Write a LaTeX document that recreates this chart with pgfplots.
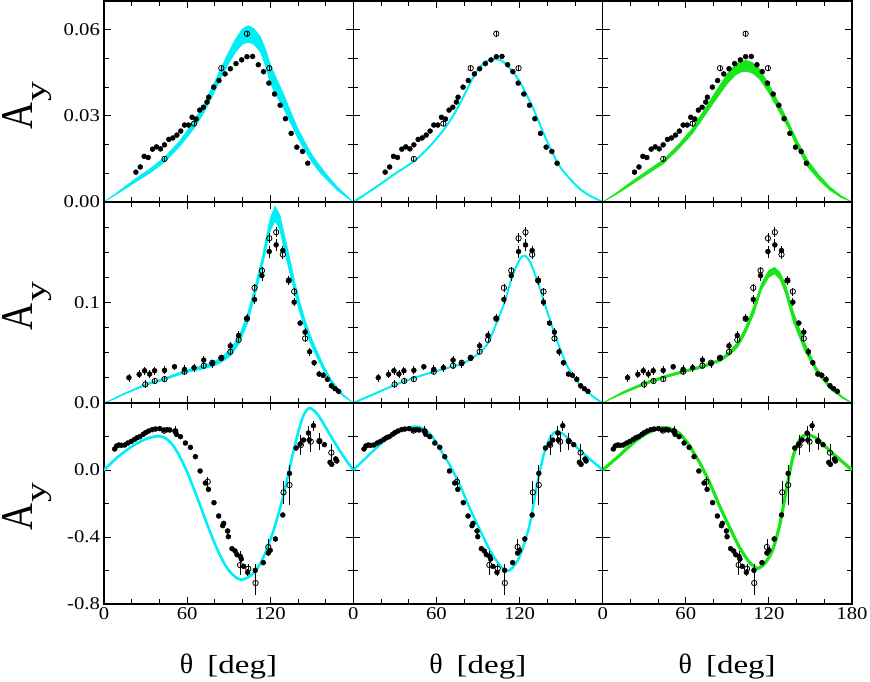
\documentclass[border=0pt]{standalone}
\usepackage{fontspec}
\setmainfont{Liberation Serif}
\usepackage{graphicx}
\usepackage{pgfplots}
\pgfplotsset{compat=1.18}
\usepackage{pgfplotstable}

\definecolor{mycyan}{RGB}{0,238,245}
\definecolor{mygreen}{RGB}{25,230,25}

\pgfplotstableread{
x y e
23.0 0.0104 0.0003
26.2 0.0122 0.0003
29.0 0.0159 0.0003
31.9 0.0155 0.0003
35.0 0.0184 0.0003
37.9 0.0192 0.0003
40.8 0.0185 0.0003
43.7 0.0199 0.0003
46.8 0.0218 0.0003
49.7 0.0223 0.0003
52.6 0.0233 0.0003
55.4 0.0247 0.0003
58.1 0.0268 0.0003
61.0 0.0268 0.0003
63.6 0.0295 0.0003
66.5 0.0289 0.0003
69.1 0.0320 0.0003
71.8 0.0330 0.0003
74.4 0.0348 0.0003
75.6 0.0365 0.0003
79.2 0.0400 0.0003
83.0 0.0423 0.0003
87.4 0.0446 0.0003
91.2 0.0464 0.0003
95.3 0.0482 0.0003
99.4 0.0495 0.0003
103.2 0.0506 0.0003
107.3 0.0507 0.0003
111.4 0.0478 0.0003
115.2 0.0454 0.0003
119.0 0.0414 0.0003
123.1 0.0376 0.0003
127.2 0.0337 0.0003
131.0 0.0290 0.0003
135.1 0.0239 0.0003
139.2 0.0191 0.0003
143.3 0.0176 0.0003
147.1 0.0135 0.0003
}\topF
\pgfplotstableread{
x y e
43.7 0.0150 0.0008
65.0 0.0273 0.0008
84.7 0.0466 0.0009
103.2 0.0586 0.0010
119.3 0.0466 0.0010
}\topO
\pgfplotstableread{
x y e
18.0 0.0252 0.004
25.4 0.0285 0.004
29.3 0.0321 0.004
32.9 0.0288 0.004
36.5 0.0321 0.004
43.7 0.0325 0.004
50.9 0.0361 0.003
58.1 0.0334 0.004
65.0 0.0351 0.004
72.0 0.0427 0.004
78.2 0.0391 0.004
84.7 0.0444 0.003
91.2 0.0569 0.004
97.2 0.0672 0.004
103.2 0.0844 0.004
108.7 0.1030 0.004
114.0 0.1268 0.005
119.3 0.1507 0.006
124.3 0.1573 0.006
129.1 0.1517 0.005
133.4 0.1219 0.004
137.3 0.1003 0.004
141.6 0.0795 0.003
145.2 0.0705 0.004
148.5 0.0510 0.004
151.7 0.0401 0.003
155.3 0.0288 0.003
158.2 0.0275 0.003
161.3 0.0235 0.003
164.1 0.0172 0.003
166.8 0.0142 0.002
169.4 0.0116 0.002
}\midF
\pgfplotstableread{
x y e
29.8 0.0185 0.004
36.7 0.0219 0.003
43.7 0.0238 0.003
58.1 0.0311 0.003
72.0 0.0371 0.003
78.2 0.0401 0.003
84.7 0.0450 0.003
91.2 0.0510 0.003
97.2 0.0629 0.003
103.2 0.0838 0.003
108.7 0.1146 0.004
114.0 0.1318 0.004
119.3 0.1639 0.005
124.3 0.1699 0.005
129.1 0.1477 0.004
133.4 0.1219 0.004
137.3 0.1109 0.004
145.2 0.0642 0.004
}\midO
\pgfplotstableread{
x y e
7.7 0.1254 0.01
9.1 0.1433 0.01
10.8 0.1493 0.01
12.5 0.1473 0.008
14.9 0.1493 0.008
17.3 0.1612 0.008
19.7 0.1711 0.008
22.1 0.1831 0.008
24.0 0.1930 0.008
25.9 0.1990 0.008
28.3 0.2129 0.008
30.0 0.2229 0.01
32.2 0.2328 0.01
34.8 0.2408 0.008
37.2 0.2448 0.008
40.3 0.2468 0.008
43.2 0.2388 0.01
45.6 0.2408 0.01
47.5 0.2388 0.01
51.4 0.2308 0.02
52.3 0.2129 0.01
55.2 0.1990 0.01
58.8 0.1612 0.01
62.4 0.1353 0.01
66.0 0.0796 0.01
69.4 -0.0060 0.01
73.2 -0.0776 0.01
75.4 -0.1154 0.015
79.4 -0.1950 0.01
82.8 -0.2746 0.01
85.7 -0.3323 0.01
86.4 -0.3184 0.01
89.3 -0.3641 0.015
89.8 -0.3980 0.015
92.4 -0.4696 0.01
94.6 -0.4836 0.01
96.0 -0.5055 0.01
98.4 -0.5154 0.03
99.1 -0.5313 0.02
100.8 -0.5751 0.01
103.7 -0.6109 0.02
109.2 -0.5990 0.04
115.0 -0.5532 0.01
118.6 -0.4955 0.02
120.0 -0.4796 0.02
123.8 -0.4119 0.015
129.1 -0.2686 0.01
133.9 -0.0199 0.04
138.7 0.1313 0.01
141.6 0.1552 0.01
144.0 0.1791 0.01
147.6 0.2209 0.04
148.1 0.1791 0.02
151.2 0.2647 0.03
155.5 0.1711 0.05
159.1 0.1512 0.01
163.2 0.0458 0.01
164.4 0.0338 0.01
167.3 0.0657 0.015
168.0 0.0537 0.01
}\botF
\pgfplotstableread{
x y e
43.5 0.2350 0.01
51.5 0.2320 0.03
74.9 -0.0697 0.03
98.2 -0.5672 0.06
104.2 -0.5891 0.03
109.4 -0.6746 0.07
118.6 -0.4597 0.05
129.6 -0.1333 0.07
133.9 -0.0896 0.12
142.1 0.1493 0.06
149.3 0.1692 0.06
155.5 0.1731 0.05
164.1 0.1035 0.05
}\botO

\pgfplotsset{
 panel/.style={scale only axis, width=249.33pt, height=201pt, anchor=south west,
  xmin=0, xmax=180, xtick={0,60,120,180}, minor xtick={20,40,80,100,140,160},
  xticklabels={,,,,}, yticklabels={,,,,},
  axis line style={line width=1.1pt, black},
  every tick/.style={black, line width=0.8pt},
  major tick length=7pt, minor tick length=5pt, tick align=inside,
  ticklabel style={font=\fontsize{18}{21}\selectfont, xscale=1.15}},
 rowT/.style={ymin=0, ymax=0.07, ytick={0,0.03,0.06}, minor ytick={0.01,0.02,0.04,0.05}},
 rowM/.style={ymin=0, ymax=0.2, ytick={0,0.1,0.2}, minor ytick={0.025,0.05,0.075,0.125,0.15,0.175}},
 rowB/.style={ymin=-0.8, ymax=0.4, ytick={-0.8,-0.4,0,0.4}, minor ytick={-0.6,-0.2,0.2}},
 band/.style={draw=#1, fill=#1, line width=0.6pt, line join=round},
 filled/.style={only marks, mark=*, mark size=2.5pt, black,
  error bars/.cd, y dir=both, y explicit, error mark=none, error bar style={line width=0.8pt, black}},
 open/.style={only marks, mark=o, mark size=2.7pt, black, mark options={line width=0.8pt},
  error bars/.cd, y dir=both, y explicit, error mark=none, error bar style={line width=0.8pt, black}},
}

\newcommand{\topdata}{%
 \addplot[filled] table[x=x,y=y,y error=e]{\topF};
 \addplot[open] table[x=x,y=y,y error=e]{\topO};}
\newcommand{\middata}{%
 \addplot[filled] table[x=x,y=y,y error=e]{\midF};
 \addplot[open] table[x=x,y=y,y error=e]{\midO};}
\newcommand{\botdata}{%
 \addplot[filled] table[x=x,y=y,y error=e]{\botF};
 \addplot[open] table[x=x,y=y,y error=e]{\botO};}

\begin{document}
\begin{tikzpicture}
\path[use as bounding box] (0,0) rectangle (870pt,681pt);

% ---------- top row ----------
\begin{axis}[panel, rowT, at={(104pt,479pt)}, yticklabels={0.00,0.03,0.06}]
 \addplot[band=mycyan] coordinates {(0,0)(10,0.0035)(23,0.0082)(33,0.0115)(44,0.0157)(55,0.0215)(65,0.0283)(72,0.0340)(80,0.0420)(85,0.0472)(90,0.0522)(95,0.0568)(100,0.0603)(104,0.0614)(108,0.0605)(113,0.0575)(117,0.0527)(120,0.0480)(125,0.0425)(130,0.0372)(135,0.0312)(140,0.0256)(145,0.0210)(150,0.0166)(156,0.0125)(162,0.0088)(168,0.0055)(174,0.0027)(180,0)
 (174,0.0020)(168,0.0043)(162,0.0072)(156,0.0102)(150,0.0140)(145,0.0180)(140,0.0222)(135,0.0272)(130,0.0322)(125,0.0365)(120,0.0414)(117,0.0468)(113,0.0522)(108,0.0550)(104,0.0556)(100,0.0550)(95,0.0522)(90,0.0482)(85,0.0439)(80,0.0385)(72,0.0310)(65,0.0256)(55,0.0195)(44,0.0140)(33,0.0100)(23,0.0070)(10,0.0030)} -- cycle;
 \topdata
\end{axis}
\begin{axis}[panel, rowT, at={(353.33pt,479pt)}]
 \addplot[mycyan, line width=2pt, smooth] coordinates {(0,0)(10,0.0031)(20,0.0064)(30,0.0098)(44,0.0143)(55,0.0193)(65,0.0250)(72,0.0300)(78,0.0352)(85,0.0420)(90,0.0462)(96,0.0490)(102,0.0498)(107,0.0492)(113,0.0466)(120,0.0420)(128,0.0345)(133,0.0290)(140,0.0210)(148,0.0132)(155,0.0088)(163,0.0048)(170,0.0024)(180,0)};
 \topdata
\end{axis}
\begin{axis}[panel, rowT, at={(602.67pt,479pt)}]
 \addplot[band=mygreen] coordinates {(0,0)(10,0.0032)(20,0.0068)(30,0.0102)(44,0.0148)(55,0.0202)(65,0.0258)(75,0.0335)(85,0.0410)(90,0.0447)(96,0.0480)(100,0.0491)(104,0.0493)(108,0.0486)(113,0.0465)(120,0.0410)(128,0.0338)(135,0.0270)(140,0.0218)(148,0.0146)(156,0.0095)(164,0.0053)(172,0.0022)(180,0)
 (172,0.0016)(164,0.0041)(156,0.0078)(148,0.0122)(140,0.0194)(135,0.0248)(128,0.0310)(120,0.0380)(113,0.0430)(108,0.0449)(104,0.0455)(100,0.0453)(96,0.0443)(90,0.0412)(85,0.0379)(75,0.0310)(65,0.0239)(55,0.0186)(44,0.0134)(30,0.0090)(20,0.0058)(10,0.0027)} -- cycle;
 \topdata
\end{axis}

% ---------- middle row ----------
\begin{axis}[panel, rowM, at={(104pt,278pt)}, yticklabels={0.0,0.1,}]
 \addplot[band=mycyan] coordinates {(0,0)(7,0.0045)(14.5,0.0097)(22,0.0142)(30,0.0192)(44,0.0250)(58,0.0322)(72,0.0378)(80,0.0415)(85,0.0457)(91.6,0.0540)(97.6,0.0670)(103.6,0.0887)(109.2,0.1170)(114.5,0.1470)(119.8,0.1830)(123.4,0.1960)(127,0.1870)(130,0.1690)(134,0.1450)(137.8,0.1200)(141.5,0.1000)(145.8,0.0800)(150,0.0640)(154.2,0.0507)(159,0.0360)(163.9,0.0240)(168,0.0160)(173.5,0.0076)(180,0)
 (173.5,0.0060)(168,0.0120)(163.9,0.0195)(159,0.0310)(154.2,0.0440)(150,0.0560)(145.8,0.0710)(141.5,0.0890)(137.8,0.1090)(134,0.1300)(130,0.1530)(127,0.1720)(123.4,0.1810)(119.8,0.1700)(114.5,0.1370)(109.2,0.1070)(103.6,0.0790)(97.6,0.0590)(91.6,0.0470)(85,0.0407)(80,0.0372)(72,0.0340)(58,0.0298)(44,0.0230)(30,0.0175)(22,0.0127)(14.5,0.0085)(7,0.0035)} -- cycle;
 \middata
\end{axis}
\begin{axis}[panel, rowM, at={(353.33pt,278pt)}]
 \addplot[mycyan, line width=2pt, smooth] coordinates {(0,0)(7,0.0042)(15,0.0090)(30,0.0180)(44,0.0250)(58,0.0310)(72,0.0364)(80,0.0400)(85,0.0440)(91.6,0.0507)(97.6,0.0606)(103.6,0.0805)(109.2,0.1003)(114.5,0.1250)(119.8,0.1420)(123.4,0.1467)(127.7,0.1400)(134,0.1170)(137.8,0.1003)(145.8,0.0670)(154.2,0.0374)(163.9,0.0175)(173.5,0.0060)(180,0)};
 \middata
\end{axis}
\begin{axis}[panel, rowM, at={(602.67pt,278pt)}]
 \addplot[band=mygreen] coordinates {(0,0)(7,0.0055)(15,0.0115)(30,0.0205)(44,0.0270)(58,0.0325)(72,0.0374)(85,0.0440)(91,0.0510)(97.6,0.0606)(103.6,0.0770)(109.2,0.0970)(114.5,0.1185)(119.8,0.1318)(124.1,0.1350)(128,0.1300)(132,0.1180)(137.8,0.0904)(145.8,0.0606)(154.2,0.0358)(163.9,0.0175)(173.5,0.0060)(180,0)
 (173.5,0.0043)(163.9,0.0142)(154.2,0.0308)(145.8,0.0520)(137.8,0.0800)(132,0.1090)(128,0.1230)(124.1,0.1285)(119.8,0.1250)(114.5,0.1120)(109.2,0.0887)(103.6,0.0705)(97.6,0.0556)(91,0.0470)(85,0.0414)(72,0.0348)(58,0.0300)(44,0.0245)(30,0.0180)(15,0.0095)(7,0.0045)} -- cycle;
 \middata
\end{axis}

% ---------- bottom row ----------
\begin{axis}[panel, rowB, at={(104pt,77pt)}, yticklabels={-0.8,-0.4,0.0,}, xticklabels={0,60,120,}]
 \addplot[mycyan, line width=2.6pt, smooth] coordinates {(0,0)(5,0.040)(10,0.078)(15,0.110)(20,0.140)(25,0.165)(30,0.184)(35,0.197)(40,0.202)(45,0.187)(50,0.145)(55,0.075)(60,-0.012)(65,-0.115)(70,-0.225)(75,-0.335)(80,-0.440)(85,-0.530)(90,-0.598)(95,-0.640)(99,-0.655)(103,-0.645)(108,-0.615)(113,-0.555)(118,-0.465)(123,-0.345)(128,-0.200)(132,-0.065)(136,0.085)(140,0.220)(144,0.325)(148,0.370)(152,0.352)(156,0.310)(160,0.255)(165,0.185)(170,0.118)(175,0.056)(180,0)};
 \botdata
\end{axis}
\begin{axis}[panel, rowB, at={(353.33pt,77pt)}, xticklabels={0,60,120,}]
 \addplot[mycyan, line width=2.4pt, smooth] coordinates {(0,0)(6,0.048)(12,0.0955)(18,0.142)(24,0.185)(30,0.218)(36,0.241)(41,0.255)(46,0.259)(51,0.245)(55.4,0.215)(59,0.175)(62.7,0.125)(66,0.078)(69.9,0.026)(77.1,-0.094)(84.3,-0.233)(91.6,-0.362)(98.8,-0.482)(106,-0.571)(112,-0.601)(118,-0.551)(122.9,-0.452)(127.7,-0.312)(132.5,-0.094)(137.3,0.086)(142.2,0.195)(147.5,0.231)(154.2,0.195)(163.9,0.115)(173.5,0.046)(180,0)};
 \botdata
\end{axis}
\begin{axis}[panel, rowB, at={(602.67pt,77pt)}, xticklabels={0,60,120,180}]
 \addplot[mygreen, line width=3.2pt, smooth] coordinates {(0,0)(6,0.043)(12,0.086)(18,0.132)(24.1,0.175)(30,0.210)(36.1,0.235)(41,0.249)(45.8,0.253)(51,0.240)(55.4,0.219)(59,0.185)(62.7,0.145)(66,0.098)(69.9,0.046)(77.1,-0.074)(84.3,-0.213)(91.6,-0.342)(98.8,-0.462)(106,-0.551)(112,-0.587)(118,-0.547)(122.9,-0.472)(127.7,-0.332)(132.5,-0.123)(137.3,0.076)(142.2,0.181)(147,0.211)(154.2,0.189)(163.9,0.115)(173.5,0.046)(180,0)};
 \botdata
\end{axis}

% ---------- axis labels ----------
\foreach \yy in {564.5,364.5,164.5}{
 \node[rotate=90, inner sep=0pt] at (17pt,\yy pt) {\resizebox{27pt}{30pt}{A}};
 \node[rotate=90, inner sep=0pt] at (42pt,\yy pt+24.5pt) {\resizebox{20pt}{13pt}{y}};
}
\foreach \xx in {228.5,477.83,727.17}{
 \node[inner sep=0pt] at (\xx pt,14.5pt) {{\fontsize{28}{28}\selectfont θ}\hspace{14pt}\scalebox{1.27}[1]{\fontsize{26}{26}\selectfont [deg]}};
}
\end{tikzpicture}
\end{document}
